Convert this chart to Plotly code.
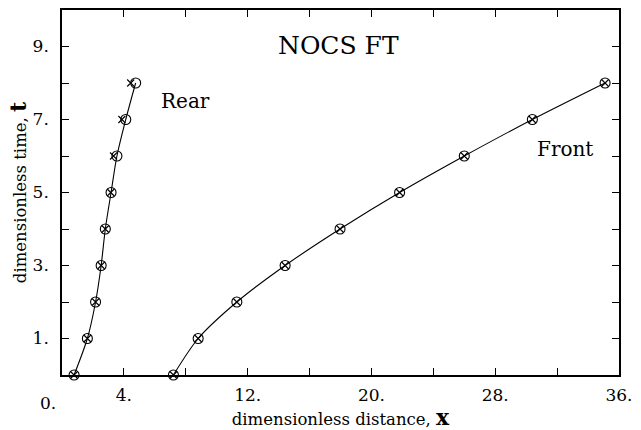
import plotly.graph_objects as go

t_vals = [0, 1, 2, 3, 4, 5, 6, 7, 8]
rear_circle_x = [0.78, 1.64, 2.17, 2.53, 2.80, 3.17, 3.55, 4.12, 4.76]
rear_cross_x = [0.78, 1.64, 2.17, 2.53, 2.80, 3.15, 3.33, 3.87, 4.44]
front_circle_x = [7.2, 8.8, 11.3, 14.42, 17.97, 21.82, 26.0, 30.4, 35.1]
front_cross_x = [7.2, 8.8, 11.3, 14.42, 17.97, 21.82, 26.0, 30.4, 35.1]

x_tickvals = [0, 4, 8, 12, 16, 20, 24, 28, 32, 36]
x_ticktext = ["", "4.", "", "12.", "", "20.", "", "28.", "", "36."]
y_tickvals = [0, 1, 2, 3, 4, 5, 6, 7, 8, 9, 10]
y_ticktext = ["", "1.", "", "3.", "", "5.", "", "7.", "", "9.", ""]

FONT = "DejaVu Serif"

fig = go.Figure()
for cx, xx in [(rear_circle_x, rear_cross_x), (front_circle_x, front_cross_x)]:
    fig.add_trace(go.Scatter(x=cx, y=t_vals, mode="lines",
                             line=dict(color="black", width=1.1, shape="spline", smoothing=0.8),
                             hoverinfo="skip", showlegend=False))
    fig.add_trace(go.Scatter(x=cx, y=t_vals, mode="markers",
                             marker=dict(symbol="circle-open", size=10, color="black",
                                         line=dict(width=1.1, color="black")),
                             showlegend=False, cliponaxis=False))
    fig.add_trace(go.Scatter(x=xx, y=t_vals, mode="markers",
                             marker=dict(symbol="x-thin-open", size=7, color="black",
                                         line=dict(width=1.1, color="black")),
                             showlegend=False, cliponaxis=False))

fig.add_annotation(x=17.9, y=9.03, text="NOCS FT", showarrow=False,
                   font=dict(family=FONT, size=25, color="black"))
fig.add_annotation(x=7.97, y=7.5, text="Rear", showarrow=False,
                   font=dict(family=FONT, size=20, color="black"))
fig.add_annotation(x=32.5, y=6.2, text="Front", showarrow=False,
                   font=dict(family=FONT, size=20, color="black"))
fig.add_annotation(xref="paper", yref="paper", x=-0.025, y=-0.045, text="0.",
                   showarrow=False, xanchor="center", yanchor="top",
                   font=dict(family=FONT, size=17, color="black"))

axis_common = dict(showgrid=False, zeroline=False, showline=True, linecolor="black",
                   linewidth=1.5, ticks="inside", ticklen=7, tickwidth=1,
                   tickcolor="black", mirror="allticks",
                   tickfont=dict(family=FONT, size=17, color="black"))

fig.update_xaxes(range=[0, 36], tickmode="array", tickvals=x_tickvals, ticktext=x_ticktext,
                 ticklabelstandoff=4,
                 title=dict(text="dimensionless distance, <span style='font-size:22px'><b>x</b></span>",
                            font=dict(family=FONT, size=16.5, color="black"), standoff=2),
                 **axis_common)
fig.update_yaxes(range=[0, 10], tickmode="array", tickvals=y_tickvals, ticktext=y_ticktext,
                 ticklabelstandoff=8,
                 title=dict(text="dimensionless time, <span style='font-size:22px'><b>t</b></span>",
                            font=dict(family=FONT, size=16.5, color="black"), standoff=2),
                 **axis_common)

fig.update_layout(width=641, height=430, margin=dict(l=62, r=14, t=8, b=55),
                  plot_bgcolor="white", paper_bgcolor="white")

fig.write_html("out.html")
